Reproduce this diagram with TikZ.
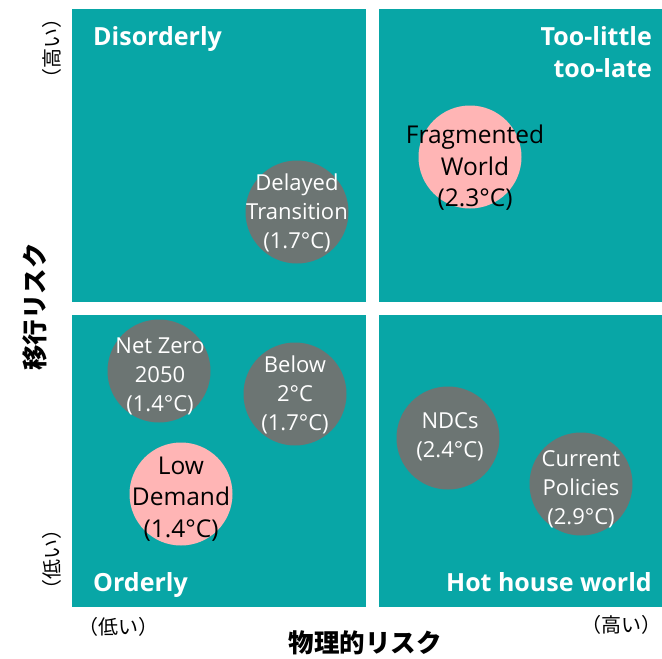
\documentclass[tikz,border=0pt]{standalone}
\usepackage{fontspec}
\setmainfont{Open Sans}
\newfontfamily\jp{Noto Sans CJK JP}
\definecolor{teal1}{HTML}{08A6A6}
\definecolor{grayb}{HTML}{6C7573}
\definecolor{pinkb}{HTML}{FFB5B5}
\tikzset{
  quad/.style={fill=teal1, draw=none},
  bub/.style={circle, minimum size=103pt, inner sep=0pt, draw=none},
  graybub/.style={bub, fill=grayb},
  pinkbub/.style={bub, fill=pinkb},
  wtxt/.style={text=white, align=center, font=\fontsize{22}{29}\selectfont, inner sep=0pt},
  btxt/.style={text=black, align=center, font=\fontsize{24.5}{31.5}\selectfont, inner sep=0pt},
  qlab/.style={text=white, font=\fontsize{25}{31}\selectfont\bfseries, inner sep=0pt},
  axlab/.style={font=\jp\bfseries\fontsize{25.5}{30}\selectfont, inner sep=0pt},
  hilo/.style={font=\jp\fontsize{20}{24}\selectfont, inner sep=0pt}
}
\begin{document}
\begin{tikzpicture}[x=1pt,y=-1pt]
\useasboundingbox (0,0) rectangle (662,659);
% quadrants
\fill[quad] (72,9) rectangle (366,302);
\fill[quad] (379,9) rectangle (662,302);
\fill[quad] (72,315) rectangle (366,607);
\fill[quad] (379,315) rectangle (662,607);
% quadrant labels
\node[qlab, anchor=base west] (qdis) at (93,45) {Disorderly};
\node[qlab, anchor=base east] (qtoo1) at (652,45) {Too-little};
\node[qlab, anchor=base east] (qtoo2) at (652,77) {too-late};
\node[qlab, anchor=base west] (qord) at (93,591) {Orderly};
\node[qlab, anchor=base east] (qhot) at (652,591) {Hot house world};
% bubbles
\node[graybub] (dt) at (297,212) {};
\node[wtxt] (dtt) at (297,213) {Delayed\\Transition\\(1.7°C)};
\node[pinkbub] (fw) at (470,157) {};
\node[btxt] (fwt) at (475,168) {Fragmented\\World\\(2.3°C)};
\node[graybub] (nz) at (159,371) {};
\node[wtxt] (nzt) at (160,376) {Net Zero\\2050\\(1.4°C)};
\node[graybub] (b2) at (295,394) {};
\node[wtxt] (b2t) at (295,395) {Below\\2°C\\(1.7°C)};
\node[pinkbub] (ld) at (181,494) {};
\node[btxt] (ldt) at (181,499) {Low\\Demand\\(1.4°C)};
\node[graybub] (nd) at (448,438) {};
\node[wtxt] (ndt) at (450,437) {NDCs\\(2.4°C)};
\node[graybub] (cp) at (581,484) {};
\node[wtxt] (cpt) at (581,489) {Current\\Policies\\(2.9°C)};
% axis labels
\node[axlab, rotate=90] (yax) at (35,307) {移行リスク};
\node[axlab] (xax) at (365,643) {物理的リスク};
\node[hilo, rotate=90] (yhi) at (52,48) {（高い）};
\node[hilo, rotate=90] (ylo) at (52,559) {（低い）};
\node[hilo] (xlo) at (118,627) {（低い）};
\node[hilo, anchor=east] (xhi) at (662,625) {（高い）};
\end{tikzpicture}
\end{document}
